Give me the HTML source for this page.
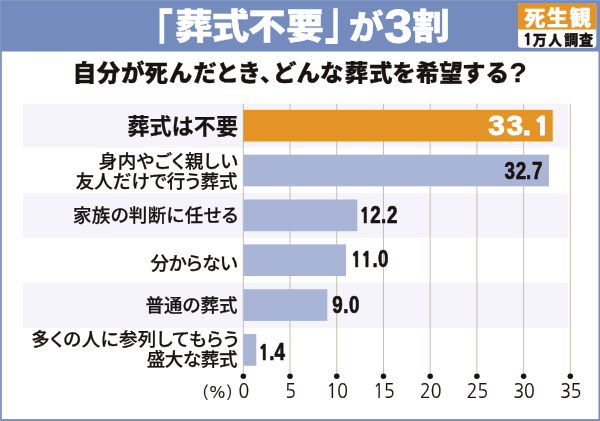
<!DOCTYPE html>
<html lang="ja">
<head>
<meta charset="utf-8">
<title>「葬式不要」が3割</title>
<style>
html,body{margin:0;padding:0;background:#fff;}
body{width:600px;height:421px;overflow:hidden;}
svg{display:block;}
text{font-family:"Liberation Sans","Noto Sans CJK JP",sans-serif;}
text.ax{font-family:NanumGothic,"Liberation Sans",sans-serif;}
</style>
</head>
<body>
<svg width="600" height="421" viewBox="0 0 600 421">
<rect x="0" y="0" width="600" height="421" fill="#748cbd"/>
<path d="M0 421V0H600" fill="none" stroke="#8198c5" stroke-width="2"/>
<rect x="1.8" y="51.5" width="596.7" height="367.6" fill="#fff"/>
<text transform="scale(1 0.95)" font-size="37.5" font-weight="900" fill="#fff" stroke="#fff" stroke-width="0.5" stroke-linejoin="round"><tspan x="135.33" y="57.84" font-size="57.4" font-weight="700" stroke-width="0" textLength="38.06" lengthAdjust="spacingAndGlyphs">「</tspan><tspan x="175.18 211.75 248.32 286.25" y="41.26">葬式不要</tspan><tspan x="324.44" y="39.97" font-size="57.4" font-weight="700" stroke-width="0" textLength="36.68" lengthAdjust="spacingAndGlyphs">」</tspan><tspan x="349.05" y="40.74" font-size="34.5">が</tspan><tspan x="384.25" y="44.84" font-size="50.5" stroke-width="0.9">3</tspan><tspan x="412.25" y="41.26">割</tspan></text>
<rect x="518" y="3.0" width="78.3" height="44.8" rx="3.2" ry="3.2" fill="#fff"/>
<path d="M518 29.4 V6.2 a3.2 3.2 0 0 1 3.2 -3.2 H593.1 a3.2 3.2 0 0 1 3.2 3.2 V29.4 Z" fill="#e39424"/>
<text transform="scale(1.02 1)" x="513.81 536.12 558.32" y="24.6" font-size="21" font-weight="900" fill="#fff" stroke="#fff" stroke-width="0.3">死生観</text>
<text x="523 532.85 548.3 564.35 578.9" y="45.1" font-size="14" font-weight="900" fill="#1a1311" stroke="#1a1311" stroke-width="0.35"><tspan style="font-family:NanumGothic,'Liberation Sans',sans-serif" font-weight="800" font-size="15.68">1</tspan>万人調査</text>
<g fill="#1a1311" stroke="#1a1311" stroke-width="0.3">
<text transform="scale(1 0.95)" x="72.75 96.75 121.12 144.5 168.88 193.38 215.5 237.62 260 273 296.62 319.88 344.88 369.12 392.25 415.88 439.25 462 485.62 509.62" y="85.42" font-size="23.5" font-weight="900">自分が死んだとき、どんな葬式を希望する<tspan dy="0.7" font-weight="700" font-size="28.2">?</tspan></text>
</g>
<rect x="23" y="103.7" width="545.3" height="44" fill="#f4f4fa"/>
<rect x="23" y="193" width="545.3" height="45" fill="#f4f4fa"/>
<rect x="23" y="282.7" width="545.3" height="45" fill="#f4f4fa"/>
<g stroke="#c0b8a2" stroke-width="0.9">
<line x1="243.3" y1="103.7" x2="243.3" y2="376"/>
<line x1="290.02" y1="103.7" x2="290.02" y2="376"/>
<line x1="336.74" y1="103.7" x2="336.74" y2="376"/>
<line x1="383.46" y1="103.7" x2="383.46" y2="376"/>
<line x1="430.18" y1="103.7" x2="430.18" y2="376"/>
<line x1="476.9" y1="103.7" x2="476.9" y2="376"/>
<line x1="523.62" y1="103.7" x2="523.62" y2="376"/>
<line x1="570.34" y1="103.7" x2="570.34" y2="376"/>
</g>
<g fill="#1a1311">
<circle cx="243.3" cy="376.2" r="2.75"/>
<circle cx="290.02" cy="376.2" r="2.75"/>
<circle cx="336.74" cy="376.2" r="2.75"/>
<circle cx="383.46" cy="376.2" r="2.75"/>
<circle cx="430.18" cy="376.2" r="2.75"/>
<circle cx="476.9" cy="376.2" r="2.75"/>
<circle cx="523.62" cy="376.2" r="2.75"/>
<circle cx="570.34" cy="376.2" r="2.75"/>
</g>
<rect x="243.2" y="109.80" width="309.5" height="31.7" fill="#e39424"/>
<rect x="243.2" y="154.65" width="305.7" height="31.7" fill="#a9b5d6"/>
<rect x="243.2" y="199.50" width="114.1" height="31.7" fill="#a9b5d6"/>
<rect x="243.2" y="244.35" width="102.8" height="31.7" fill="#a9b5d6"/>
<rect x="243.2" y="289.20" width="84.1" height="31.7" fill="#a9b5d6"/>
<rect x="243.2" y="334.05" width="13.1" height="31.7" fill="#a9b5d6"/>
<g stroke-linejoin="round">
<text transform="scale(1.1 1)" x="443.9 460.35 475.34 485.27" y="135.3" font-size="27" font-weight="700" fill="#fff" stroke="#fff" stroke-width="1">33.<tspan style="font-family:NanumGothic,'Liberation Sans',sans-serif" font-weight="800" font-size="24.3">1</tspan></text>
<text transform="scale(0.8 1)" x="630.62 644.75 657.62 665.12" y="178.8" font-size="23.5" font-weight="700" fill="#1a1311" stroke="#1a1311" stroke-width="0.7">32.7</text>
<text transform="scale(0.8 1)" x="449.75 462.75 476.12 483.62" y="223.2" font-size="23.5" font-weight="700" fill="#1a1311" stroke="#1a1311" stroke-width="0.7"><tspan style="font-family:NanumGothic,'Liberation Sans',sans-serif" font-weight="800" font-size="21.15">1</tspan>2.2</text>
<text transform="scale(0.8 1)" x="439 452 465.5 472.38" y="267.2" font-size="23.5" font-weight="700" fill="#1a1311" stroke="#1a1311" stroke-width="0.7"><tspan style="font-family:NanumGothic,'Liberation Sans',sans-serif" font-weight="800" font-size="21.15">1</tspan><tspan style="font-family:NanumGothic,'Liberation Sans',sans-serif" font-weight="800" font-size="21.15">1</tspan>.0</text>
<text transform="scale(0.8 1)" x="415.38 429 436.25" y="313" font-size="23.5" font-weight="700" fill="#1a1311" stroke="#1a1311" stroke-width="0.7">9.0</text>
<text transform="scale(0.8 1)" x="323.37 336.62 343.12" y="359.8" font-size="23.5" font-weight="700" fill="#1a1311" stroke="#1a1311" stroke-width="0.7"><tspan style="font-family:NanumGothic,'Liberation Sans',sans-serif" font-weight="800" font-size="21.15">1</tspan>.4</text>
</g>
<g fill="#1a1311" stroke="#1a1311" stroke-width="0.25">
<text x="127.5" y="133.5" font-size="22" font-weight="700" style="letter-spacing:0.12px;">葬式は不要</text>
<text x="98.75" y="167.75" font-size="18.5" font-weight="500" style="letter-spacing:0.57px;font-feature-settings:&quot;palt&quot; 1;">身内やごく親しい</text>
<text x="75.75" y="187.5" font-size="18.5" font-weight="500" style="letter-spacing:0px;font-feature-settings:&quot;palt&quot; 1;">友人だけで行う葬式</text>
<text x="73" y="222.25" font-size="18.5" font-weight="500" style="letter-spacing:0.34px;font-feature-settings:&quot;palt&quot; 1;">家族の判断に任せる</text>
<text x="150.5" y="270.25" font-size="18.5" font-weight="500" style="letter-spacing:-0.25px;font-feature-settings:&quot;palt&quot; 1;">分からない</text>
<text x="145.5" y="312.15" font-size="18.5" font-weight="500" style="letter-spacing:0.06px;font-feature-settings:&quot;palt&quot; 1;">普通の葬式</text>
<text x="31.25" y="346.25" font-size="18.5" font-weight="500" style="letter-spacing:0.46px;font-feature-settings:&quot;palt&quot; 1;">多くの人に参列してもらう</text>
<text x="146.75" y="366" font-size="18.5" font-weight="500" style="letter-spacing:-0.38px;font-feature-settings:&quot;palt&quot; 1;">盛大な葬式</text>
</g>
<g font-size="18.5" fill="#1a1311" stroke="#1a1311" stroke-width="0.2" text-anchor="middle">
<text class="ax" x="217.3" y="397.8" font-size="16.8">(%)</text>
<text class="ax" transform="translate(243.8 398.3) scale(0.92 1)" x="0" y="0" font-size="19.2">0</text>
<text class="ax" transform="translate(290.52 398.3) scale(0.92 1)" x="0" y="0" font-size="19.2">5</text>
<text class="ax" transform="translate(337.24 398.3) scale(0.92 1)" x="0" y="0" font-size="19.2">10</text>
<text class="ax" transform="translate(383.96 398.3) scale(0.92 1)" x="0" y="0" font-size="19.2">15</text>
<text class="ax" transform="translate(430.68 398.3) scale(0.92 1)" x="0" y="0" font-size="19.2">20</text>
<text class="ax" transform="translate(477.4 398.3) scale(0.92 1)" x="0" y="0" font-size="19.2">25</text>
<text class="ax" transform="translate(524.12 398.3) scale(0.92 1)" x="0" y="0" font-size="19.2">30</text>
<text class="ax" transform="translate(570.84 398.3) scale(0.92 1)" x="0" y="0" font-size="19.2">35</text>
</g>
</svg>
</body>
</html>
